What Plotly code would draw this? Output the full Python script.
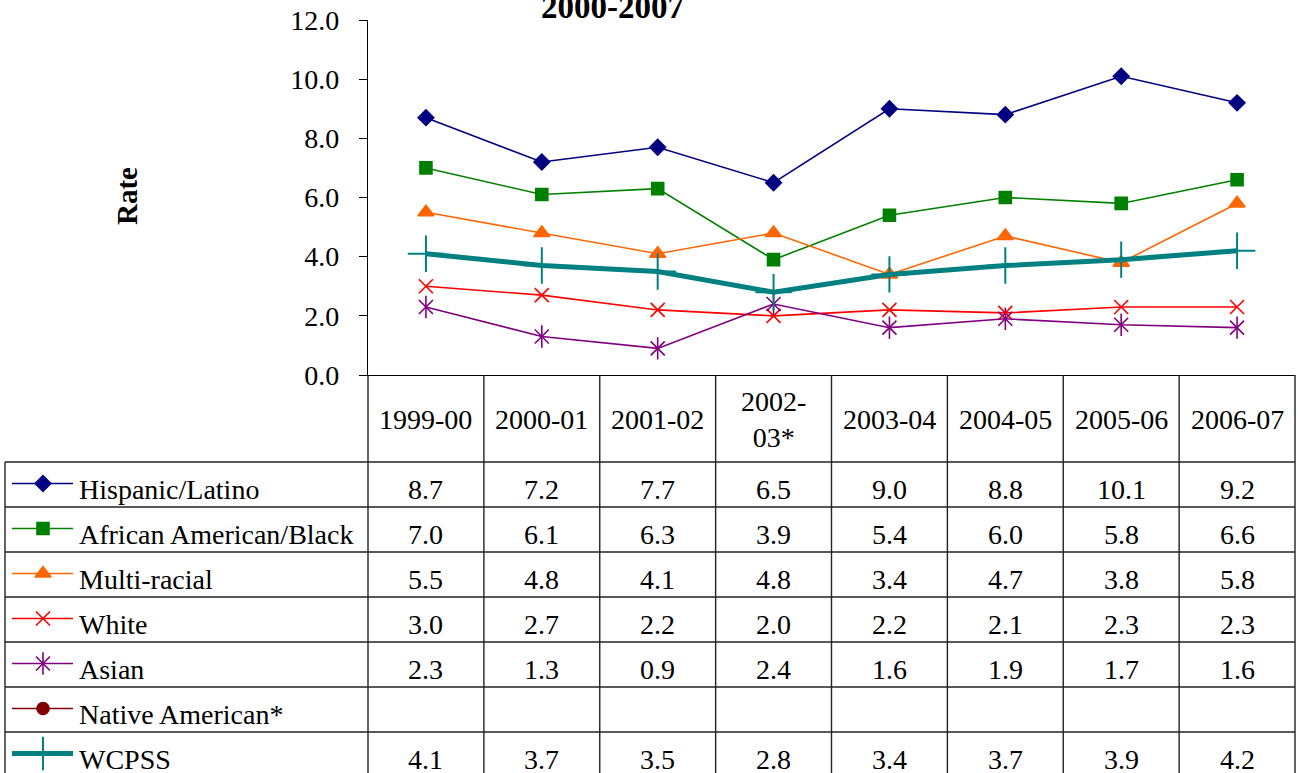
import plotly.graph_objects as go

# ---------------- data ----------------
years = ["1999-00", "2000-01", "2001-02", "2002-<br>03*", "2003-04", "2004-05", "2005-06", "2006-07"]
series_names = ["Hispanic/Latino", "African American/Black", "Multi-racial", "White",
                "Asian", "Native American*", "WCPSS"]
hispanic = [8.7, 7.2, 7.7, 6.5, 9.0, 8.8, 10.1, 9.2]
african_american = [7.0, 6.1, 6.3, 3.9, 5.4, 6.0, 5.8, 6.6]
multi_racial = [5.5, 4.8, 4.1, 4.8, 3.4, 4.7, 3.8, 5.8]
white = [3.0, 2.7, 2.2, 2.0, 2.2, 2.1, 2.3, 2.3]
asian = [2.3, 1.3, 0.9, 2.4, 1.6, 1.9, 1.7, 1.6]
native_american = [None] * 8
wcpss = [4.1, 3.7, 3.5, 2.8, 3.4, 3.7, 3.9, 4.2]
y_ticks = [0, 2, 4, 6, 8, 10, 12]

values = [hispanic, african_american, multi_racial, white, asian, native_american, wcpss]

# ---------------- styles ----------------
W, H = 1298, 773
FONT = "Liberation Serif, Times New Roman, serif"
FS = 28
colors = ["#000080", "#008000", "#FF6600", "#FF0000", "#800080", "#800000", "#008080"]
symbols = ["diamond", "square", "triangle-up", "x-thin", "x-thin", "circle", "cross-thin"]
msizes = [12, 12, 14, 14, 14, 12, 26]
lwidths = [1.6, 1.6, 1.6, 1.6, 1.6, 1.6, 5]

# plot area in pixels
PX0, PX1 = 368, 1295
PY_TOP, PY_BOT = 20, 375

fig = go.Figure()

x_idx = list(range(len(years)))
for name, vals, c, sym, ms, lw in zip(series_names, values, colors, symbols, msizes, lwidths):
    mline = 2 if sym == "cross-thin" else 1.6
    fig.add_trace(go.Scatter(
        x=x_idx, y=vals, mode="lines+markers", name=name,
        line=dict(color=c, width=lw),
        marker=dict(symbol=sym, size=ms, color=c, line=dict(color=c, width=mline)),
        xaxis="x", yaxis="y", cliponaxis=False, showlegend=False))
    if name == "Asian":
        # vertical stroke of the star marker
        fig.add_trace(go.Scatter(
            x=x_idx, y=vals, mode="markers",
            marker=dict(symbol="line-ns", size=ms + 2, color=c, line=dict(color=c, width=1.6)),
            xaxis="x", yaxis="y", cliponaxis=False, showlegend=False, hoverinfo="skip"))

# ---------------- table (pixel overlay axes) ----------------
col_edges = [PX0 + i * (PX1 - PX0) / len(years) for i in range(len(years) + 1)]
HEADER_BOT = 462
ROW_H = 45
TABLE_LEFT = 5
row_tops = [HEADER_BOT + i * ROW_H for i in range(len(series_names))]

shapes = []
line_style = dict(color="#222222", width=1.4)
for xe in col_edges:
    shapes.append(dict(type="line", xref="x2", yref="y2", x0=xe, x1=xe,
                       y0=PY_BOT, y1=H + 5, line=line_style))
shapes.append(dict(type="line", xref="x2", yref="y2", x0=TABLE_LEFT, x1=TABLE_LEFT,
                   y0=HEADER_BOT, y1=H + 5, line=line_style))
for yt in row_tops:
    shapes.append(dict(type="line", xref="x2", yref="y2", x0=TABLE_LEFT, x1=PX1,
                       y0=yt, y1=yt, line=line_style))

annotations = []
for i, yr in enumerate(years):
    xc = (col_edges[i] + col_edges[i + 1]) / 2
    annotations.append(dict(xref="x2", yref="y2", x=xc, y=(PY_BOT + HEADER_BOT) / 2 + 1,
                            text=yr, showarrow=False, font=dict(family=FONT, size=FS, color="black"),
                            xanchor="center", yanchor="middle"))
for r, (name, vals, c, sym, ms, lw) in enumerate(zip(series_names, values, colors, symbols, msizes, lwidths)):
    yc = row_tops[r] + ROW_H / 2 + 5
    annotations.append(dict(xref="x2", yref="y2", x=77, y=yc, text=name, showarrow=False,
                            font=dict(family=FONT, size=FS, color="black"),
                            xanchor="left", yanchor="middle"))
    for i, v in enumerate(vals):
        if v is None:
            continue
        xc = (col_edges[i] + col_edges[i + 1]) / 2
        annotations.append(dict(xref="x2", yref="y2", x=xc, y=yc, text=f"{v:.1f}", showarrow=False,
                                font=dict(family=FONT, size=FS, color="black"),
                                xanchor="center", yanchor="middle"))
    ly = row_tops[r] + ROW_H / 2 - 1
    fig.add_trace(go.Scatter(x=[12, 73], y=[ly, ly], mode="lines",
                             line=dict(color=c, width=lw), xaxis="x2", yaxis="y2",
                             showlegend=False, hoverinfo="skip", cliponaxis=False))
    mline = 2 if sym == "cross-thin" else 1.6
    lsize = 24 if sym == "cross-thin" else ms
    fig.add_trace(go.Scatter(x=[43], y=[ly], mode="markers",
                             marker=dict(symbol=sym, size=lsize, color=c, line=dict(color=c, width=mline)),
                             xaxis="x2", yaxis="y2", showlegend=False, hoverinfo="skip", cliponaxis=False))
    if name == "Asian":
        fig.add_trace(go.Scatter(x=[43], y=[ly], mode="markers",
                                 marker=dict(symbol="line-ns", size=ms + 2, color=c, line=dict(color=c, width=1.6)),
                                 xaxis="x2", yaxis="y2", showlegend=False, hoverinfo="skip", cliponaxis=False))

annotations.append(dict(xref="x2", yref="y2", x=612, y=27, text="<b>2000-2007</b>", showarrow=False,
                        font=dict(family=FONT, size=33, color="black"), xanchor="center", yanchor="bottom"))
annotations.append(dict(xref="x2", yref="y2", x=127, y=196, text="<b>Rate</b>", showarrow=False,
                        textangle=-90, font=dict(family=FONT, size=29, color="black"),
                        xanchor="center", yanchor="middle"))

fig.update_layout(
    width=W, height=H,
    margin=dict(l=0, r=0, t=0, b=0, pad=0, autoexpand=False),
    paper_bgcolor="white", plot_bgcolor="rgba(0,0,0,0)",
    shapes=shapes, annotations=annotations,
    xaxis=dict(domain=[PX0 / W, PX1 / W], range=[-0.5, len(years) - 0.5], automargin=False,
               showticklabels=False, ticks="", showgrid=False, zeroline=False,
               showline=True, linecolor="black", linewidth=1.4, anchor="y", fixedrange=True),
    yaxis=dict(domain=[(H - PY_BOT) / H, (H - PY_TOP) / H], range=[0, 12], automargin=False,
               tickvals=y_ticks, tickformat=".1f", ticks="outside", ticklen=8, tickcolor="black",
               ticklabelstandoff=14,
               showgrid=False, zeroline=False, showline=True, linecolor="black", linewidth=1.4,
               tickfont=dict(family=FONT, size=FS, color="black"), anchor="x", fixedrange=True),
    xaxis2=dict(domain=[0, 1], range=[0, W], visible=False, anchor="y2", fixedrange=True, automargin=False),
    yaxis2=dict(domain=[0, 1], range=[H, 0], visible=False, anchor="x2", fixedrange=True, automargin=False),
    font=dict(family=FONT, color="black"),
)

fig.write_html("out.html", config={"displayModeBar": False},
               post_script="document.body.style.margin='0';document.body.style.overflow='hidden';")
